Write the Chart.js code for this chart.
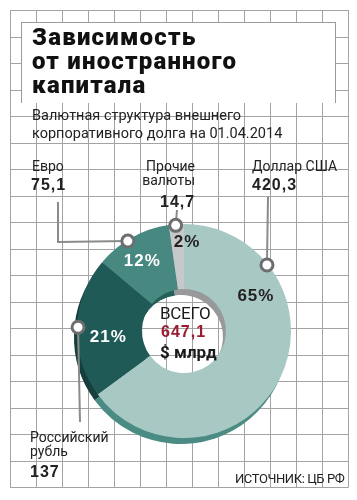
<!DOCTYPE html>
<html lang="ru">
<head>
<meta charset="utf-8">
<script src="https://cdn.jsdelivr.net/npm/chart.js@4.4.1/dist/chart.umd.min.js"></script>
<style>
  html,body{margin:0;padding:0;background:#fff;}
  #wrap{position:relative;width:357px;height:500px;overflow:hidden;background:#fff;}
  canvas{position:absolute;left:0;top:0;}
  .t{position:absolute;white-space:nowrap;color:#1a1a1a;font-family:Roboto,"Liberation Sans",sans-serif;}
  #titlebox{position:absolute;left:21px;top:22px;width:313px;height:80px;background:#fff;border:1px solid #9c9c9c;border-bottom:none;}
  .title{font-weight:900;font-size:24px;line-height:24px;letter-spacing:1.2px;color:#111;}
  .sub{font-size:14.5px;line-height:18px;color:#222;}
  .lab{font-size:14px;line-height:14px;color:#222;}
  .num{font-size:16px;font-weight:bold;letter-spacing:1px;color:#222;font-family:"Liberation Sans",Arial,sans-serif;}
</style>
</head>
<body>
<div id="wrap">
  <canvas id="grid" width="357" height="500"></canvas>
  <div id="titlebox"></div>
  <canvas id="rim" width="357" height="500"></canvas>
  <canvas id="main" width="357" height="500"></canvas>

  <div class="t title" style="left:32px;top:25px;">Зависимость<br>от иностранного<br>капитала</div>
  <div class="t sub" style="left:32px;top:107px;">Валютная структура внешнего<br>корпоративного долга на 01.04.2014</div>

  <div class="t lab" style="left:32px;top:159px;">Евро</div>
  <div class="t num" style="left:31px;top:176px;">75,1</div>

  <div class="t lab" style="right:162px;top:159px;text-align:right;line-height:14px;">Прочие<br>валюты</div>
  <div class="t num" style="left:160px;top:193px;">14,7</div>

  <div class="t lab" style="left:252px;top:159px;">Доллар США</div>
  <div class="t num" style="left:252px;top:176px;">420,3</div>

  <div class="t lab" style="left:30px;top:430px;line-height:14px;">Российский<br>рубль</div>
  <div class="t num" style="left:30px;top:463px;">137</div>

  <div class="t" style="left:235px;top:471px;font-size:13px;letter-spacing:-0.4px;color:#222;">ИСТОЧНИК: ЦБ РФ</div>

  <div class="t" style="left:160px;top:303px;font-size:17px;color:#1a1a1a;letter-spacing:-0.3px;">ВСЕГО</div>
  <div class="t num" style="left:161px;top:323px;color:#9b1b30;">647,1</div>
  <div class="t" style="left:160px;top:342px;font-size:17px;font-weight:bold;color:#1a1a1a;">$ млрд</div>
</div>
<script>
// ---- data ----
const categories = ["Доллар США", "Российский рубль", "Евро", "Прочие валюты"];
const values = [420.3, 137, 75.1, 14.7];          // $ млрд
const totalLabel = "647,1";

// ---- styling ----
const sliceColors = ["#a8c8c4", "#1f5a57", "#478880", "#c7c8ca"];
const rimColors   = ["#4a8c84", "#153e3c", "#2b6a64", "#9c9d9f"];
const wallColors  = ["#98999b", "#1c4d4a", "#245f5a", "#98999b"];
const pctColors   = ["#222", "#fff", "#fff", "#222"];
// label placement (degrees clockwise from top, distance from centre)
const pctAngle  = [64, 265, 329, 2];
const pctRadius = [80, 76, 81, 89];
// callout marker angle on the outer edge
const markerAngle = [51.5, 272, 328, 355.5];
// leader line end points (towards text labels)
const leaderEnds = [
  [[268,197]],
  [[80,422]],
  [[58,242],[58,202]],
  [[177,210]]
];

// ---- background grid ----
(function(){
  const c = document.getElementById('grid').getContext('2d');
  c.strokeStyle = '#a3a3a3'; c.lineWidth = 1;
  c.beginPath();
  for (let k=0;k<=13;k++){ const x=Math.round(10+26*k)+0.5; c.moveTo(x,10); c.lineTo(x,487.5); }
  for (let k=0;k<=18;k++){ const y=Math.round(10+26.5*k)+0.5; c.moveTo(10,y); c.lineTo(348.5,y); }
  c.stroke();
})();

const pad = {left:77, right:66, top:224, bottom:62};
const common = {
  responsive:false, maintainAspectRatio:false, animation:false,
  events:[],
  plugins:{legend:{display:false}, tooltip:{enabled:false}},
};

// ---- 3D rim (shifted copy behind) ----
new Chart(document.getElementById('rim'), {
  type:'doughnut',
  data:{labels:categories, datasets:[
    {data:values, backgroundColor:rimColors, borderWidth:0, weight:57},
    {data:values, backgroundColor:wallColors, borderWidth:0, weight:8}
  ]},
  options:Object.assign({}, common, {
    cutout:42,
    layout:{padding:{left:pad.left-3, right:pad.right+3, top:pad.top+6, bottom:pad.bottom-6}}
  })
});

// ---- callouts + percent labels plugin ----
const callouts = {
  id:'callouts',
  afterDatasetsDraw(chart){
    const ctx = chart.ctx;
    const meta = chart.getDatasetMeta(0);
    const total = values.reduce((a,b)=>a+b,0);
    const rad = d => d*Math.PI/180;
    meta.data.forEach((arc,i)=>{
      const cx=arc.x, cy=arc.y, R=arc.outerRadius-1;
      const mx = cx + R*Math.sin(rad(markerAngle[i]));
      const my = cy - R*Math.cos(rad(markerAngle[i]));
      ctx.save();
      ctx.strokeStyle='#8a8b8d'; ctx.lineWidth=2;
      ctx.beginPath(); ctx.moveTo(mx,my);
      leaderEnds[i].forEach(p=>ctx.lineTo(p[0],p[1]));
      ctx.stroke();
      ctx.beginPath(); ctx.arc(mx,my,6,0,Math.PI*2);
      ctx.fillStyle='#fff'; ctx.fill();
      ctx.lineWidth=3; ctx.strokeStyle='#6d6e70'; ctx.stroke();
      // percent
      const px = cx + pctRadius[i]*Math.sin(rad(pctAngle[i]));
      const py = cy - pctRadius[i]*Math.cos(rad(pctAngle[i]));
      ctx.fillStyle=pctColors[i];
      ctx.font='bold 17px "Liberation Sans", Arial, sans-serif';
      ctx.letterSpacing='1px';
      ctx.textAlign='center'; ctx.textBaseline='middle';
      ctx.fillText(Math.round(values[i]/total*100)+'%', px, py);
      ctx.restore();
    });
  }
};

new Chart(document.getElementById('main'), {
  type:'doughnut',
  data:{labels:categories, datasets:[
    {data:values, backgroundColor:sliceColors, borderWidth:0}
  ]},
  options:Object.assign({}, common, {
    cutout:42,
    layout:{padding:pad}
  }),
  plugins:[callouts]
});
</script>
</body>
</html>
